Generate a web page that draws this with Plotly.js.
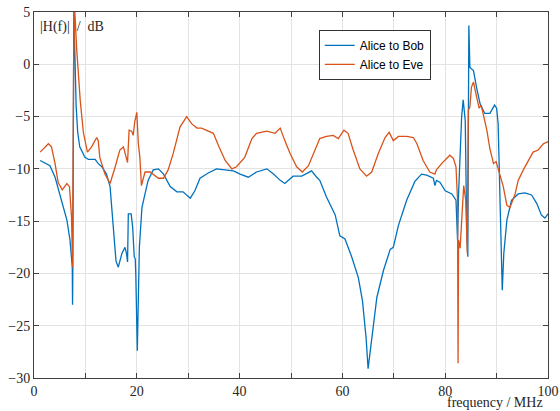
<!DOCTYPE html>
<html>
<head>
<meta charset="utf-8">
<script src="https://cdn.plot.ly/plotly-3.0.1.min.js"></script>
<style>html,body{margin:0;padding:0;background:#fff;}#chart{width:560px;height:411px;}</style>
</head>
<body>
<div id="chart"></div>
<script>
const bobFreq = [1.2,3.1,4.1,5.1,6.4,7.0,7.45,7.5,7.55,7.75,7.9,8.2,8.5,8.9,9.9,10.6,11.9,12.5,13.2,14.1,14.8,15.4,15.95,16.4,17.1,17.7,18.0,18.2,18.35,18.9,19.2,19.5,19.7,19.8,20.1,20.5,21.0,21.6,22.2,23.2,24.2,25.2,26.5,27.8,29.0,30.4,31.3,32.3,33.9,35.5,37.5,38.8,40.1,41.7,43.3,45.3,46.6,47.9,48.8,50.4,52.1,54.0,55.0,55.6,56.9,58.6,59.5,60.5,61.8,63.1,63.9,64.6,65.0,65.7,66.7,68.0,69.3,69.9,70.9,72.5,74.1,75.4,76.4,77.7,78.0,78.3,79.0,80.0,81.3,82.1,82.4,82.6,82.9,83.2,83.5,83.9,84.2,84.4,84.5,84.6,84.8,85.5,86.1,86.8,87.7,88.7,89.6,90.0,90.3,90.5,90.8,91.1,91.4,92.0,92.9,94.2,95.5,96.8,97.8,98.7,99.4,100];
const bobDb = [-9.2,-9.7,-10.8,-12.7,-14.9,-16.8,-19.4,-23.0,-20,5.0,2,-4,-6.5,-7.9,-8.9,-9.1,-9.1,-9.5,-9.8,-10.5,-11.7,-15.6,-18.8,-19.4,-18.1,-17.5,-18.1,-18.9,-14.3,-14.3,-15.6,-18.4,-18.6,-20,-27.4,-17.5,-13.7,-12.4,-11.1,-10.1,-10.0,-10.5,-11.7,-12.2,-12.2,-12.8,-12.1,-10.9,-10.4,-10.0,-10.1,-10.2,-10.5,-10.8,-10.3,-10.0,-10.5,-11.1,-11.4,-10.7,-10.7,-10.2,-10.8,-11.1,-12.7,-14.4,-16.4,-16.7,-18.4,-20.4,-22.6,-26.1,-29.1,-26.1,-22.3,-19.7,-17.7,-17.5,-15.4,-13.0,-11.2,-10.5,-10.6,-10.9,-11.6,-11.1,-11.3,-12.1,-12.4,-13.0,-16.8,-12.4,-9.2,-5.0,-3.4,-5.4,-16.2,-18.4,-6.6,3.7,-0.3,-0.6,-2.2,-3.8,-4.7,-4.7,-3.9,-4.2,-5.7,-9.8,-16.2,-21.6,-18.1,-14.9,-13.0,-12.4,-12.3,-12.5,-13.3,-14.4,-14.7,-14.3];

const eveFreq = [1.2,2.8,3.4,4.1,4.7,5.5,6.4,6.9,7.3,7.5,7.7,7.95,8.3,8.6,9.0,9.6,10.4,11.2,12.2,12.5,12.8,13.8,14.8,15.8,16.7,17.4,18.2,18.5,19.0,19.3,19.6,20.0,20.3,20.6,20.9,21.6,22.6,24.2,25.2,26.1,27.1,28.4,29.7,30.7,31.7,32.6,33.9,34.9,35.9,37.2,38.5,39.4,41.0,42.4,43.3,45.3,46.9,47.9,48.8,49.8,51.1,52.2,53.4,54.7,55.6,56.9,58.2,59.2,60.3,61.1,62.1,63.4,64.7,65.7,67.0,68.3,69.1,69.9,70.9,72.5,73.8,74.5,75.7,77.0,78.0,78.3,79.3,80.9,81.6,82.1,82.4,82.5,82.6,82.9,83.2,83.6,84.0,84.3,84.5,84.8,85.1,85.5,86.1,86.6,87.0,87.4,88.1,88.7,89.4,89.9,90.2,90.7,91.3,92.0,92.6,93.6,94.2,95.2,96.2,97.1,98.1,99.1,100];
const eveDb = [-8.4,-7.6,-7.9,-9.5,-11.3,-12.0,-11.4,-11.7,-14.6,-19.4,0,5.0,1.5,-0.5,-3.5,-6.5,-8.4,-7.9,-7.0,-7.3,-8.9,-10.5,-11.4,-9.8,-8.2,-7.9,-9.4,-6.3,-6.4,-6.8,-5.5,-4.6,-7.6,-8.9,-11.6,-10.3,-10.3,-10.9,-10.9,-10.1,-8.5,-6.0,-5.0,-5.7,-6.1,-6.1,-6.4,-6.6,-7.8,-9.2,-10.0,-9.8,-8.9,-7.1,-6.6,-6.4,-6.6,-6.1,-7.3,-8.5,-9.8,-10.3,-9.7,-8.2,-7.1,-6.9,-6.8,-7.1,-6.3,-6.6,-8.2,-10.0,-10.7,-10.3,-8.5,-7.0,-6.5,-7.3,-6.9,-6.9,-7.0,-7.6,-9.2,-10.3,-10.5,-10.1,-9.5,-8.7,-9.0,-9.8,-13.0,-28.6,-16.8,-17.6,-14.9,-11.6,-13.0,-18.1,-4.4,-4.1,-2.2,-1.7,-3.1,-4.2,-3.9,-4.7,-6.3,-8.1,-9.5,-9.3,-9.8,-10.5,-11.7,-13.5,-13.7,-12.4,-11.1,-10.1,-9.2,-8.4,-8.2,-7.6,-7.4];

const xTickVals = [0,10,20,30,40,50,60,70,80,90,100];
const xTickText = ['0','','20','','40','','60','','80','','100'];
const seriesNames = ['Alice to Bob','Alice to Eve'];

const serif = 'Liberation Serif, Times New Roman, serif';
const axisCommon = {
  showgrid: true, gridcolor: '#e3e3e3', gridwidth: 1,
  showline: true, linecolor: '#404040', linewidth: 1, mirror: 'ticks',
  ticks: 'inside', ticklen: 5, tickcolor: '#404040', tickwidth: 1,
  zeroline: false,
  tickfont: {family: serif, size: 14, color: '#262626'}
};

const traces = [
  {x: bobFreq, y: bobDb, name: seriesNames[0], type: 'scatter', mode: 'lines',
   line: {color: '#0072BD', width: 1.3}},
  {x: eveFreq, y: eveDb, name: seriesNames[1], type: 'scatter', mode: 'lines',
   line: {color: '#D95319', width: 1.3}}
];

const layout = {
  width: 560, height: 411,
  margin: {l: 34, r: 12, t: 12, b: 33},
  paper_bgcolor: '#fff', plot_bgcolor: '#fff',
  showlegend: true,
  legend: {x: 0.554, y: 0.951, xanchor: 'left', yanchor: 'top',
    bgcolor: '#fff', bordercolor: '#333', borderwidth: 1,
    font: {family: 'Liberation Sans, Arial, sans-serif', size: 12, color: '#000'},
    tracegroupgap: 0},
  xaxis: Object.assign({}, axisCommon, {range: [0, 100], tickmode: 'array',
    tickvals: xTickVals, ticktext: xTickText}),
  yaxis: Object.assign({}, axisCommon, {range: [-30, 5], dtick: 5, tick0: 0}),
  annotations: [
    {text: '|H(f)|  /  dB', xref: 'paper', yref: 'paper', x: 0.008, y: 0.985,
     xanchor: 'left', yanchor: 'top', showarrow: false,
     font: {family: serif, size: 14, color: '#262626'}},
    {text: 'frequency / MHz', xref: 'paper', yref: 'paper', x: 0.995, y: -0.068,
     xanchor: 'right', yanchor: 'middle', showarrow: false,
     font: {family: serif, size: 14, color: '#262626'}}
  ]
};

Plotly.newPlot('chart', traces, layout, {displayModeBar: false, staticPlot: true});
</script>
</body>
</html>
